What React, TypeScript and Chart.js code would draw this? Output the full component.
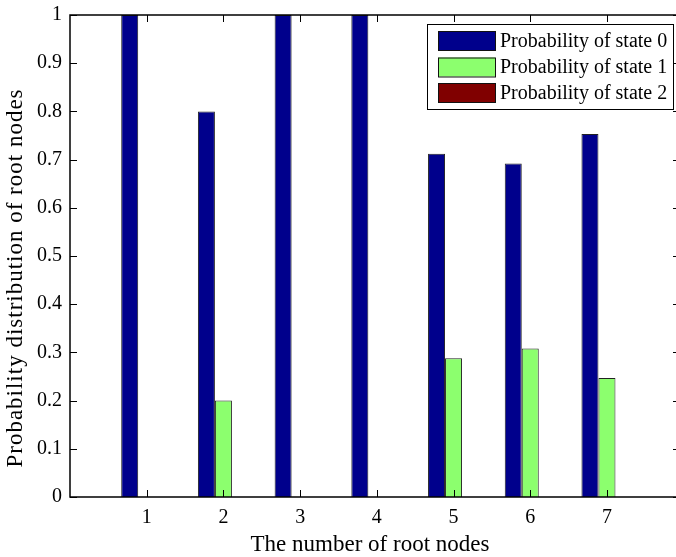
import { useEffect, useRef } from 'react';
import { Chart, registerables } from 'chart.js';

Chart.register(...registerables);

const categories = [1, 2, 3, 4, 5, 6, 7];
const state0 = [1, 0.8, 1, 1, 0.712, 0.692, 0.753];
const state1 = [0, 0.2, 0, 0, 0.288, 0.308, 0.247];
const state2 = [0, 0, 0, 0, 0, 0, 0];
const seriesLabels = ['Probability of state 0', 'Probability of state 1', 'Probability of state 2'];
const seriesColors = ['#00008c', '#8cff6e', '#800000'];
const xTicks = [1, 2, 3, 4, 5, 6, 7];
const yTicks = [0, 0.1, 0.2, 0.3, 0.4, 0.5, 0.6, 0.7, 0.8, 0.9, 1];
const xRange = [0, 7.9];
const yRange = [0, 1];
const xTitle = 'The number of root nodes';
const yTitle = 'Probability distribution of root nodes';

const FONT = '"Liberation Serif", "Times New Roman", serif';

const framePlugin = {
  id: 'matlabFrame',
  afterDraw(chart: any) {
    const { ctx, chartArea } = chart;
    const { left, right, top, bottom } = chartArea;
    const xs = chart.scales.x;
    const ys = chart.scales.y;
    ctx.save();
    ctx.strokeStyle = '#000';
    ctx.lineWidth = 1.5;
    ctx.beginPath();
    ctx.moveTo(right, top);
    ctx.lineTo(left, top);
    ctx.lineTo(left, bottom);
    ctx.lineTo(right, bottom);
    ctx.stroke();
    ctx.lineWidth = 1;
    const tl = 7;
    ctx.beginPath();
    for (const v of yTicks) {
      const py = Math.round(ys.getPixelForValue(v)) + 0.5;
      ctx.moveTo(left, py);
      ctx.lineTo(left + tl, py);
      ctx.moveTo(right, py);
      ctx.lineTo(right - 3, py);
    }
    for (const v of xTicks) {
      const px = Math.round(xs.getPixelForValue(v)) + 0.5;
      ctx.moveTo(px, bottom);
      ctx.lineTo(px, bottom - tl);
      ctx.moveTo(px, top);
      ctx.lineTo(px, top + tl);
    }
    ctx.stroke();

    ctx.fillStyle = '#000';
    ctx.font = `23px ${FONT}`;
    ctx.textAlign = 'center';
    ctx.textBaseline = 'middle';
    ctx.fillText(xTitle, 370, 545);
    ctx.save();
    ctx.translate(16, 278);
    ctx.rotate(-Math.PI / 2);
    ctx.letterSpacing = '1px';
    ctx.fillText(yTitle, 0, 0);
    ctx.restore();

    const bx = 427, by = 24, bw = 246, bh = 85;
    ctx.fillStyle = '#fff';
    ctx.fillRect(bx, by, bw, bh);
    ctx.strokeStyle = '#000';
    ctx.lineWidth = 1;
    ctx.strokeRect(bx + 0.5, by + 0.5, bw, bh);
    const rows = [40.5, 67, 92.5];
    ctx.font = `20px ${FONT}`;
    ctx.textAlign = 'left';
    chart.data.datasets.forEach((ds: any, i: number) => {
      const cy = rows[i];
      ctx.fillStyle = ds.backgroundColor;
      ctx.fillRect(438, cy - 9.5, 57, 19);
      ctx.strokeStyle = '#111';
      ctx.strokeRect(438.5, cy - 9, 57, 19);
      ctx.fillStyle = '#000';
      ctx.fillText(ds.label, 500, cy + 1);
    });
    ctx.restore();
  },
};

export default function App() {
  const ref = useRef<HTMLCanvasElement | null>(null);
  useEffect(() => {
    if (!ref.current) return;
    const series = [state0, state1, state2];
    const chart = new Chart(ref.current, {
      type: 'bar',
      data: {
        datasets: series.map((vals, i) => ({
          label: seriesLabels[i],
          data: categories.map((c, j) => ({ x: c, y: vals[j] })),
          backgroundColor: seriesColors[i],
          borderColor: '#222',
          borderWidth: 1,
          categoryPercentage: 0.665,
          barPercentage: 1,
        })),
      },
      options: {
        animation: false,
        responsive: false,
        layout: { padding: { top: 15, right: 0, left: 0, bottom: 0 } },
        plugins: { legend: { display: false }, tooltip: { enabled: false } },
        scales: {
          x: {
            type: 'linear',
            min: xRange[0],
            max: xRange[1],
            offset: false,
            grid: { display: false, offset: false, drawTicks: false },
            border: { display: false },
            afterBuildTicks: (s: any) => {
              s.ticks = xTicks.map((v) => ({ value: v }));
            },
            afterFit: (s: any) => {
              s.height = 60;
              s.paddingLeft = 0;
              s.paddingRight = 0;
            },
            ticks: {
              color: '#000',
              padding: 9,
              maxRotation: 0,
              font: { family: FONT, size: 20 },
              callback: (v: any) => String(v),
            },
          },
          y: {
            min: yRange[0],
            max: yRange[1],
            grid: { display: false, drawTicks: false },
            border: { display: false },
            afterBuildTicks: (s: any) => {
              s.ticks = yTicks.map((v) => ({ value: v }));
            },
            afterFit: (s: any) => {
              s.width = 70;
              s.paddingTop = 0;
              s.paddingBottom = 0;
            },
            ticks: {
              color: '#000',
              padding: 8,
              font: { family: FONT, size: 20 },
              callback: (v: any) => String(Math.round(Number(v) * 10) / 10),
            },
          },
        },
      },
      plugins: [framePlugin],
    } as any);
    return () => chart.destroy();
  }, []);
  return (
    <div style={{ position: 'fixed', left: 0, top: 0, width: 676, height: 557, overflow: 'hidden', background: '#fff' }}>
      <canvas ref={ref} width={676} height={557} style={{ display: 'block', width: 676, height: 557 }} />
    </div>
  );
}
